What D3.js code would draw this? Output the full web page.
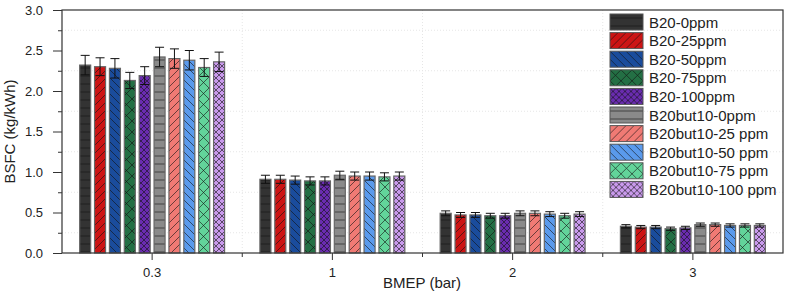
<!DOCTYPE html>
<html>
<head>
<meta charset="utf-8">
<script src="https://cdn.jsdelivr.net/npm/d3@7"></script>
<style>
  body { margin: 0; background: #fff; }
  text { font-family: "Liberation Sans", Arial, sans-serif; fill: #222; }
</style>
</head>
<body>
<div id="chart"></div>
<script>
// BMEP load points
var categories = ["0.3", "1", "2", "3"];
var seriesNames = ["B20-0ppm", "B20-25ppm", "B20-50ppm", "B20-75ppm", "B20-100ppm",
    "B20but10-0ppm", "B20but10-25 ppm", "B20but10-50 ppm", "B20but10-75 ppm", "B20but10-100 ppm"];
// BSFC values per series, one entry per category
var bsfc = [
    [2.32, 0.91, 0.49, 0.33],
    [2.30, 0.91, 0.47, 0.32],
    [2.28, 0.90, 0.47, 0.32],
    [2.13, 0.89, 0.46, 0.30],
    [2.19, 0.89, 0.46, 0.31],
    [2.42, 0.96, 0.49, 0.35],
    [2.40, 0.95, 0.49, 0.35],
    [2.38, 0.95, 0.48, 0.34],
    [2.29, 0.94, 0.46, 0.34],
    [2.36, 0.95, 0.48, 0.34]
];
var errs = [
    [0.12, 0.05, 0.03, 0.02],
    [0.11, 0.05, 0.03, 0.02],
    [0.12, 0.05, 0.03, 0.02],
    [0.10, 0.05, 0.03, 0.02],
    [0.11, 0.05, 0.03, 0.02],
    [0.12, 0.05, 0.03, 0.02],
    [0.12, 0.05, 0.03, 0.02],
    [0.12, 0.05, 0.03, 0.02],
    [0.11, 0.05, 0.03, 0.02],
    [0.12, 0.05, 0.03, 0.02]
];
var fills = ["#333333", "#cc1414", "#1a4c9c", "#236f44", "#6a2cb0",
    "#8a8a8a", "#f07a74", "#5a9aec", "#62d49a", "#c99aec"];
var hatches = ["h", "f", "b", "x", "xx", "h", "f", "b", "x", "xx"];
var yTicks = [0, 0.5, 1.0, 1.5, 2.0, 2.5, 3.0];
var yMinor = [0.25, 0.75, 1.25, 1.75, 2.25, 2.75];

var W = 786, H = 295;
var m = {left: 62, right: 3, top: 10, bottom: 42};

var svg = d3.select("#chart").append("svg")
    .attr("width", W).attr("height", H);

var defs = svg.append("defs");
hatches.forEach(function(h, i) {
    var s = h == "xx" ? 6 : (h == "x" ? 11 : 8);
    var p = defs.append("pattern")
        .attr("id", "pat" + i)
        .attr("patternUnits", "userSpaceOnUse")
        .attr("width", s).attr("height", s);
    p.append("rect").attr("width", s).attr("height", s).attr("fill", fills[i]);
    var g = p.append("g").attr("stroke", "#111").attr("stroke-opacity", 0.75)
        .attr("stroke-width", 0.8).attr("fill", "none");
    if (h == "h") {
        g.append("path").attr("d", "M0," + s / 2 + "H" + s);
    }
    if (h == "f" || h == "x" || h == "xx") {
        g.append("path").attr("d", "M-1,1L1,-1M0," + s + "L" + s + ",0M" + (s - 1) + "," + (s + 1) + "L" + (s + 1) + "," + (s - 1));
    }
    if (h == "b" || h == "x" || h == "xx") {
        g.append("path").attr("d", "M-1," + (s - 1) + "L1," + (s + 1) + "M0,0L" + s + "," + s + "M" + (s - 1) + ",-1L" + (s + 1) + ",1");
    }
});

var x0 = d3.scaleBand().domain(categories)
    .range([m.left, W - m.right]).padding(0);
var groupW = x0.bandwidth() * 0.804;
var x1 = d3.scaleBand().domain(d3.range(seriesNames.length))
    .range([0, groupW]).paddingInner(0.26).paddingOuter(0);
var y = d3.scaleLinear().domain([0, 3]).range([H - m.bottom, m.top]);

// faint grid on minor positions
var grid = svg.append("g").attr("stroke", "#e6e6e6").attr("stroke-dasharray", "1,2");
yMinor.forEach(function(v) {
    grid.append("line").attr("x1", m.left).attr("x2", W - m.right)
        .attr("y1", y(v)).attr("y2", y(v));
});
categories.slice(1).forEach(function(c) {
    grid.append("line").attr("x1", x0(c)).attr("x2", x0(c))
        .attr("y1", m.top).attr("y2", H - m.bottom);
});

// bars + error bars
seriesNames.forEach(function(name, i) {
    var g = svg.append("g");
    categories.forEach(function(c, j) {
        var bx = x0(c) + (x0.bandwidth() - groupW) / 2 + x1(i);
        var bw = x1.bandwidth();
        g.append("rect")
            .attr("x", bx).attr("y", y(bsfc[i][j]))
            .attr("width", bw).attr("height", y(0) - y(bsfc[i][j]))
            .attr("fill", "url(#pat" + i + ")")
            .attr("stroke", "#666").attr("stroke-width", 1.2);
        var cx = bx + bw / 2;
        var e = svg.append("g").attr("stroke", "#111").attr("stroke-width", 1);
        e.append("line").attr("x1", cx).attr("x2", cx)
            .attr("y1", y(bsfc[i][j] + errs[i][j])).attr("y2", y(bsfc[i][j] - errs[i][j]));
        [bsfc[i][j] + errs[i][j], bsfc[i][j] - errs[i][j]].forEach(function(v) {
            e.append("line").attr("x1", cx - 4.5).attr("x2", cx + 4.5)
                .attr("y1", y(v)).attr("y2", y(v));
        });
    });
});

// frame
svg.append("rect").attr("x", m.left).attr("y", m.top)
    .attr("width", W - m.left - m.right).attr("height", H - m.top - m.bottom)
    .attr("fill", "none").attr("stroke", "#333").attr("stroke-width", 1.2);

// y axis
var yAxis = svg.append("g").attr("transform", "translate(" + m.left + ",0)")
    .call(d3.axisLeft(y).tickValues(yTicks).tickFormat(d3.format(".1f")).tickSize(9).tickPadding(10));
yAxis.append("g").call(d3.axisLeft(y).tickValues(yMinor).tickSize(4).tickFormat(""));
yAxis.selectAll(".domain").remove();
yAxis.selectAll("line").attr("stroke", "#333");
yAxis.selectAll("text").attr("font-size", 13).attr("fill", "#222");

// x axis
var xAxis = svg.append("g").attr("transform", "translate(0," + (H - m.bottom) + ")")
    .call(d3.axisBottom(x0).tickSize(7).tickPadding(8));
xAxis.selectAll(".domain").remove();
xAxis.selectAll("line").attr("stroke", "#333");
xAxis.selectAll("text").attr("font-size", 13).attr("fill", "#222");
categories.slice(1).forEach(function(c) {
    xAxis.append("line").attr("x1", x0(c)).attr("x2", x0(c))
        .attr("y1", 0).attr("y2", 4).attr("stroke", "#333");
});

svg.append("text").attr("x", 383).attr("y", 288)
    .attr("font-size", 15).text("BMEP (bar)");
svg.append("text").attr("transform", "translate(15," + ((m.top + H - m.bottom) / 2) + ") rotate(-90)")
    .attr("text-anchor", "middle").attr("font-size", 15).text("BSFC (kg/kWh)");

// legend
var leg = svg.append("g").attr("transform", "translate(610,14)");
seriesNames.forEach(function(name, i) {
    var r = leg.append("g").attr("transform", "translate(0," + (i * 18.6) + ")");
    r.append("rect").attr("width", 33).attr("height", 16)
        .attr("fill", "url(#pat" + i + ")").attr("stroke", "#555").attr("stroke-width", 1);
    r.append("text").attr("x", 39).attr("y", 13.5).attr("font-size", 15).text(name);
});
</script>
</body>
</html>
